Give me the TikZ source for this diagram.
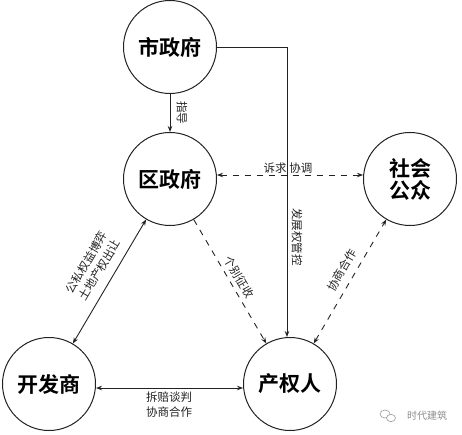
\documentclass[tikz,border=0pt]{standalone}
\usepackage{fontspec}
\setmainfont{Noto Sans CJK SC}
\newfontfamily\cjkbold{Noto Sans CJK SC Bold}
\usetikzlibrary{arrows.meta}
\definecolor{ink}{HTML}{222222}
\tikzset{
  party/.style={circle, draw=ink, line width=1pt, minimum size=93pt, inner sep=0pt,
    font=\cjkbold\fontsize{21}{25}\selectfont, align=center, text=black},
  conn/.style={draw=ink, line width=0.9pt, -{Stealth[length=6pt,width=4.5pt]}},
  biconn/.style={draw=ink, line width=0.9pt, {Stealth[length=6pt,width=4.5pt]}-{Stealth[length=6pt,width=4.5pt]}},
  dashconn/.style={dash pattern=on 6pt off 6pt},
  lbl/.style={font=\fontsize{11.5}{15}\selectfont, text=ink, inner sep=1pt, align=center},
}
\begin{document}
\begin{tikzpicture}[x=1pt, y=-1pt]
\useasboundingbox (0,0) rectangle (462,435);
\node[party] (shi) at (170,47) {市政府};
\node[party] (qu) at (170,179) {区政府};
\node[party] (she) at (410,179) {社会\\[-3pt]公众};
\node[party] (kai) at (49,384) {开发商};
\node[party] (chan) at (290,384) {产权人};
% connectors
\draw[conn] (shi) -- (qu);
\draw[conn] (shi.east) -| ([xshift=-3pt]chan.north);
\draw[biconn, dashconn] ([yshift=4pt]qu.east) -- ([yshift=4pt]she.west);
\draw[conn, dashconn] (qu) -- (chan);
\draw[biconn] (kai) -- (qu);
\draw[biconn, dashconn] (chan) -- (she);
\draw[biconn] ([yshift=-4pt]kai.east) -- ([yshift=-4pt]chan.west);
% labels
\node[lbl, rotate=-90] (l1) at (182,113) {指导};
\node[lbl, rotate=-90] (l2) at (297,237) {发展权管控};
\node[lbl] (l3) at (288,168) {诉求 协调};
\node[lbl, rotate=-59.7] (l4) at (239,277) {个别征收};
\node[lbl, rotate=59.7] (l5) at (93,266) {公私权益博弈\\土地产权出让};
\node[lbl, rotate=59.7] (l6) at (342,270) {协商合作};
\node[lbl] (l7) at (169,405) {拆赔谈判\\协商合作};
% watermark
\node[font=\fontsize{10}{12}\selectfont, text=black!45, inner sep=0pt] (wm) at (427,416) {时代建筑};
\draw[black!40, line width=0.6pt] (385,414) ellipse (5pt and 4pt);
\draw[black!40, line width=0.6pt, fill=white] (391,418) ellipse (4.5pt and 3.6pt);
\end{tikzpicture}
\end{document}
